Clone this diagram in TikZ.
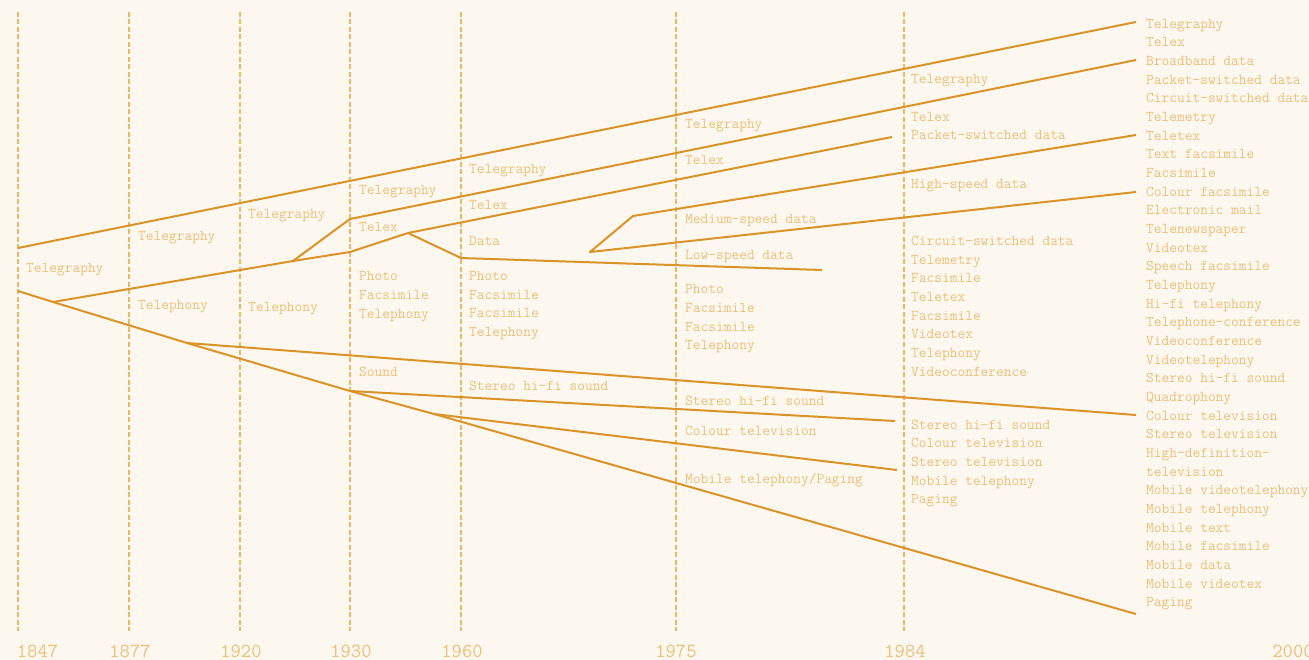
\documentclass[tikz,border=0pt]{standalone}
\usepackage{xcolor}
\usepackage{tikz}

\definecolor{paper}{HTML}{FCF8EF}
\definecolor{branch}{HTML}{DA9328}
\definecolor{caption}{HTML}{EDBF78}
\definecolor{guide}{HTML}{ECB866}

\begin{document}
\begin{tikzpicture}[x=1pt,y=-1pt,line join=round,
                    branch line/.style={draw=branch,line width=2pt},
                    year line/.style={draw=guide,line width=1.3pt,dash pattern=on 5pt off 2.5pt},
                    service node/.style={anchor=north west,yshift=4.7pt,inner sep=0pt,align=left,
                        text=caption,font=\ttfamily\fontsize{15}{18.67}\selectfont},
                    year node/.style={anchor=base,inner sep=0pt,text=caption,
                        font=\ttfamily\fontsize{20}{24}\selectfont}]

    \fill[paper] (0,0) rectangle (1309,660);
    \useasboundingbox (0,0) rectangle (1309,660);

    % time axis
    \draw[year line] (18,12) -- (18,631);
    \draw[year line] (129,12) -- (129,631);
    \draw[year line] (240,12) -- (240,631);
    \draw[year line] (350,12) -- (350,631);
    \draw[year line] (461,12) -- (461,631);
    \draw[year line] (676,12) -- (676,631);
    \draw[year line] (904,12) -- (904,631);

    \node[year node] (y1847) at (37.5,657) {1847};
    \node[year node] (y1877) at (130,657) {1877};
    \node[year node] (y1920) at (241,657) {1920};
    \node[year node] (y1930) at (351,657) {1930};
    \node[year node] (y1960) at (462,657) {1960};
    \node[year node] (y1975) at (676,657) {1975};
    \node[year node] (y1984) at (905,657) {1984};
    \node[year node] (y2000) at (1293,657) {2000};

    % branch points
    \coordinate (tgA) at (18,248);
    \coordinate (tgZ) at (1136,22);
    \coordinate (split) at (18,291);
    \coordinate (fork) at (53,302);
    \coordinate (dataA) at (293,261);
    \coordinate (dataB) at (350,252);
    \coordinate (dataC) at (408,233);
    \coordinate (pktZ) at (892,137);
    \coordinate (telexA) at (350,219);
    \coordinate (telexZ) at (1136,60);
    \coordinate (lowA) at (461,258);
    \coordinate (lowZ) at (822,270);
    \coordinate (modA) at (590,252);
    \coordinate (modB) at (633,216);
    \coordinate (modZ) at (1136,135);
    \coordinate (fastZ) at (1136,192);
    \coordinate (phA) at (187,343);
    \coordinate (phB) at (350,391);
    \coordinate (phC) at (434,414);
    \coordinate (mobZ) at (1136,614);
    \coordinate (tvZ) at (1136,415);
    \coordinate (hifiZ) at (895,421);
    \coordinate (colZ) at (897,470);

    \draw[branch line] (tgA) -- (tgZ);
    \draw[branch line] (split) -- (fork) -- (dataA) -- (dataB) -- (dataC) -- (pktZ);
    \draw[branch line] (dataA) -- (telexA) -- (telexZ);
    \draw[branch line] (dataC) -- (lowA) -- (lowZ);
    \draw[branch line] (modZ) -- (modB) -- (modA) -- (fastZ);
    \draw[branch line] (fork) -- (phA) -- (phB) -- (phC) -- (mobZ);
    \draw[branch line] (phA) -- (tvZ);
    \draw[branch line] (phB) -- (hifiZ);
    \draw[branch line] (phC) -- (colZ);

    % services per year
    \node[service node] (tg1847) at (26,268) {Telegraphy};

    \node[service node] (tg1877) at (138,236) {Telegraphy};
    \node[service node] (tp1877) at (138,305.3) {Telephony};

    \node[service node] (tg1920) at (248,214.2) {Telegraphy};
    \node[service node] (tp1920) at (248,306.5) {Telephony};

    \node[service node] (tg1930) at (359,190) {Telegraphy};
    \node[service node] (tx1930) at (359,227) {Telex};
    \node[service node] (ph1930) at (359,276) {Photo\\Facsimile\\Telephony};
    \node[service node] (sd1930) at (359,371.3) {Sound};

    \node[service node] (tg1960) at (469,169.2) {Telegraphy};
    \node[service node] (tx1960) at (469,204.7) {Telex};
    \node[service node] (da1960) at (469,241) {Data};
    \node[service node] (ph1960) at (469,275.8) {Photo\\Facsimile\\Facsimile\\Telephony};
    \node[service node] (sd1960) at (469,385.8) {Stereo hi-fi sound};

    \node[service node] (tg1975) at (685,124.2) {Telegraphy};
    \node[service node] (tx1975) at (685,159.7) {Telex};
    \node[service node] (md1975) at (685,218.8) {Medium-speed data};
    \node[service node] (ld1975) at (685,255) {Low-speed data};
    \node[service node] (ph1975) at (685,289) {Photo\\Facsimile\\Facsimile\\Telephony};
    \node[service node] (sd1975) at (685,400.8) {Stereo hi-fi sound};
    \node[service node] (tv1975) at (685,430.8) {Colour television};
    \node[service node] (mb1975) at (685,477.2) {Mobile telephony/Paging};

    \node[service node] (tg1984) at (911,78.7) {Telegraphy};
    \node[service node] (tx1984) at (911,116.5) {Telex\\Packet-switched data};
    \node[service node] (hd1984) at (911,183.5) {High-speed data};
    \node[service node] (cs1984) at (911,240.5) {Circuit-switched data\\Telemetry\\Facsimile\\Teletex\\Facsimile\\Videotex\\Telephony\\Videoconference};
    \node[service node] (sd1984) at (911,424.2) {Stereo hi-fi sound\\Colour television\\Stereo television\\Mobile telephony\\Paging};

    \node[service node] (all2000) at (1146,23.5) {Telegraphy\\Telex\\Broadband data\\Packet-switched data\\Circuit-switched data\\Telemetry\\Teletex\\Text facsimile\\Facsimile\\Colour facsimile\\Electronic mail\\Telenewspaper\\Videotex\\Speech facsimile\\Telephony\\Hi-fi telephony\\Telephone-conference\\Videoconference\\Videotelephony\\Stereo hi-fi sound\\Quadrophony\\Colour television\\Stereo television\\High-definition-\\television\\Mobile videotelephony\\Mobile telephony\\Mobile text\\Mobile facsimile\\Mobile data\\Mobile videotex\\Paging};
\end{tikzpicture}
\end{document}
